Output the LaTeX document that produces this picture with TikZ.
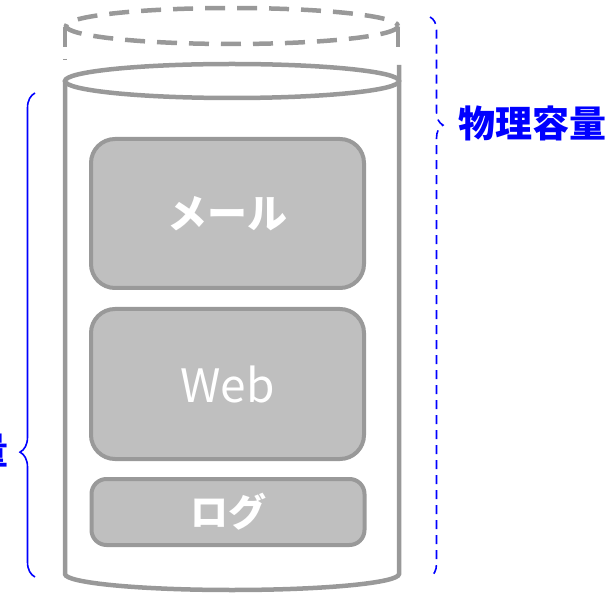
\documentclass[tikz,border=0pt]{standalone}
\usepackage{fontspec}
\usetikzlibrary{decorations.pathreplacing}
\newfontfamily\jpfont{Noto Sans CJK JP}
\colorlet{shell edge}{black!40}
\colorlet{part area}{black!25}
\colorlet{note}{blue}
\tikzstyle{shell} = [draw=shell edge, line width=4.5pt]
\tikzstyle{shell dashed} = [shell, dash pattern=on 20pt off 12pt]
\tikzstyle{part} = [draw=shell edge, fill=part area, line width=4pt, rounded corners=24pt,
  minimum width=273pt, text=white, inner sep=0pt]
\tikzstyle{note brace} = [draw=note, line width=1.6pt, decorate]
\tikzstyle{note text} = [text=note, font=\jpfont\bfseries\fontsize{37pt}{40pt}\selectfont, inner sep=0pt]

\begin{document}
\begin{tikzpicture}[x=1pt, y=-1pt]
    \useasboundingbox (0,0) rectangle (610,593);

    % dashed top: the room that is not handed out
    \draw[shell dashed] (232,26) ellipse (166 and 18);
    \draw[shell dashed] (65,27) -- (65,60);
    \draw[shell dashed] (398,27) -- (398,48);

    % the cylinder itself
    \draw[shell] (232,81) ellipse (167 and 17);
    \draw[shell] (65,81) -- (65,574) arc[start angle=180, end angle=0, x radius=167, y radius=16]
      -- (399,65);

    \node[part, minimum height=149pt] (mail) at (227.5,213.5)
      {\jpfont\bfseries\fontsize{40pt}{44pt}\selectfont メール};
    \node[part, minimum height=150pt] (web) at (227.5,384)
      {\jpfont\fontsize{46pt}{50pt}\selectfont Web};
    \node[part, minimum height=66pt, rounded corners=15pt] (log) at (228,512)
      {\jpfont\bfseries\fontsize{38pt}{42pt}\selectfont ログ};

    % capacities
    \coordinate (phys top) at (430,17);
    \coordinate (phys bottom) at (430,577);
    \coordinate (logic top) at (35,93);
    \coordinate (logic bottom) at (35,577);
    \path[note brace, dash pattern=on 9pt off 6pt, decoration={brace, amplitude=13pt, aspect=0.193}]
      (phys top) -- (phys bottom);
    \path[note brace, decoration={brace, amplitude=15pt, aspect=0.258}]
      (logic bottom) -- (logic top);

    \node[note text, anchor=west] (phys) at (458,123) {物理容量};
    \node[note text, anchor=east] (logic) at (9,450) {論理容量};
\end{tikzpicture}
\end{document}
